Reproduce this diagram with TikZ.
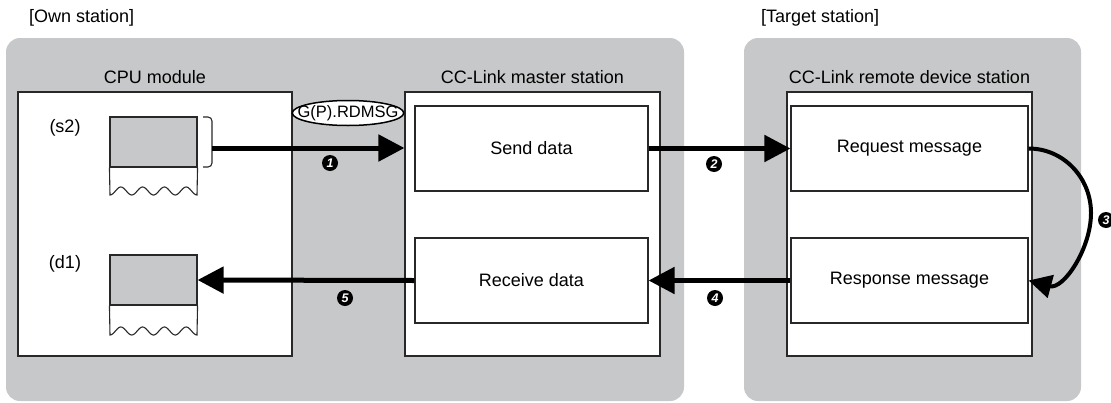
\documentclass[tikz,border=0pt]{standalone}
\usepackage{fontspec}
\setmainfont{Liberation Sans}
\usetikzlibrary{arrows.meta,shapes.geometric}
\definecolor{panelgray}{RGB}{199,200,202}
\definecolor{linegray}{RGB}{40,40,40}
\tikzset{
  panel/.style={fill=panelgray, draw=none, rounded corners=14pt},
  box/.style={draw=linegray, fill=white, line width=1.1pt, inner sep=0pt},
  lbl/.style={font=\fontsize{18}{20}\selectfont, inner sep=0pt},
  arr/.style={line width=5pt, draw=black, -{Triangle[length=26pt,width=26pt]}},
  carr/.style={line width=4pt, draw=black, -{Triangle[length=23pt,width=23pt]}},
  num/.style={circle, fill=black, inner sep=0pt, minimum size=16pt, text=white, font=\fontsize{12.5}{12.5}\selectfont\bfseries\itshape},
  mem/.style={draw=linegray, fill=panelgray, line width=1.1pt, minimum width=87pt, minimum height=50pt, inner sep=0pt},
}
\begin{document}
\begin{tikzpicture}[x=1pt,y=1pt]
\useasboundingbox (0,0) rectangle (1111,-402);
% panels
\fill[panel] (6,-38) rectangle (684,-401);
\fill[panel] (744,-38) rectangle (1081,-401);
\node[lbl, anchor=west] (own) at (29,-18) {[Own station]};
\node[lbl, anchor=west] (tgt) at (761,-18) {[Target station]};
% outer boxes
\node[box, minimum width=274pt, minimum height=264pt] (cpu) at (155,-224) {};
\node[box, minimum width=255pt, minimum height=264pt] (master) at (532.5,-224) {};
\node[box, minimum width=245pt, minimum height=264pt] (remote) at (909.5,-224) {};
\node[lbl] (cput) at (155,-77) {CPU module};
\node[lbl] (mastert) at (532.5,-77) {CC-Link master station};
\node[lbl] (remotet) at (909.5,-77) {CC-Link remote device station};
% inner boxes
\node[box, minimum width=233pt, minimum height=85pt, font=\fontsize{18}{20}\selectfont] (send) at (531.5,-148.5) {Send data};
\node[box, minimum width=233pt, minimum height=85pt, font=\fontsize{18}{20}\selectfont] (receive) at (531.5,-280.5) {Receive data};
\node[box, minimum width=237pt, minimum height=85pt, font=\fontsize{18}{20}\selectfont] (request) at (909.5,-148.5) {Request message};
\node[box, minimum width=237pt, minimum height=85pt, font=\fontsize{18}{20}\selectfont] (response) at (909.5,-280.5) {Response message};
% memory blocks
\node[lbl] (s2t) at (65,-128) {(s2)};
\node[lbl] (d1t) at (65,-264) {(d1)};
\node[mem] (s2) at (153.5,-142) {};
\node[mem] (d1) at (153.5,-280) {};
\draw[draw=linegray, line width=1.1pt] (s2.south west) -- (110,-195)
  -- plot[domain=0:87, samples=90, smooth] ({110+\x},{-191-4*cos(\x*16.5517)}) -- (s2.south east);
\draw[draw=linegray, line width=1.1pt] (d1.south west) -- (110,-335)
  -- plot[domain=0:87, samples=90, smooth] ({110+\x},{-331-4*cos(\x*16.5517)}) -- (d1.south east);
% bracket
\draw[draw=linegray, line width=1.1pt, rounded corners=4pt] (203,-117) -- (212,-117) -- (212,-167) -- (203,-167);
\coordinate (b1) at (212,-148);
% instruction ellipse
\node[ellipse, draw=black, fill=white, line width=1.5pt, inner xsep=-11pt, inner ysep=-3pt, minimum width=111pt, minimum height=25pt, font=\fontsize{16.5}{17}\selectfont] (instr) at (348,-113) {G(P).RDMSG};
% arrows
\draw[arr] (b1) -- (b1 -| master.west);
\draw[arr] (send.east) -- (request.west);
\draw[carr] (request.east) to[out=0, in=90] (1091,-213) to[out=-90, in=-15] (response.east);
\draw[arr] (response.west) -- (receive.east);
\draw[arr] (receive.west) -- (d1.east);
% step numbers
\node[num] (n1) at (330,-163) {1};
\node[num] (n2) at (714,-164) {2};
\node[num] (n3) at (1106,-220) {3};
\node[num] (n4) at (715,-298) {4};
\node[num] (n5) at (345,-298) {5};
\end{tikzpicture}
\end{document}
